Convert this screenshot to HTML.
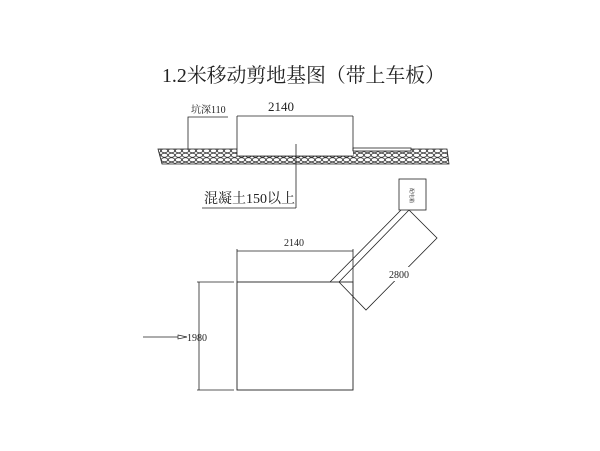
<!DOCTYPE html>
<html><head><meta charset="utf-8"><style>
html,body{margin:0;padding:0;background:#fff;}
svg{display:block;}
text{font-family:"Liberation Serif","Noto Serif CJK SC",serif;fill:#222;}
</style></head><body>
<svg width="600" height="451" viewBox="0 0 600 451" xmlns="http://www.w3.org/2000/svg">
<defs>
<pattern id="st" width="7" height="4.5" patternUnits="userSpaceOnUse">
<ellipse cx="3.5" cy="2.25" rx="3.2" ry="2" fill="none" stroke="#333" stroke-width="0.8"/>
</pattern>
</defs>
<text x="162" y="82" font-size="20" textLength="283" lengthAdjust="spacingAndGlyphs">1.2米移动剪地基图（带上车板）</text>

<!-- ground section -->
<path d="M158 149 L237 149 L237 156 L353 156 L353 151 L410 151 L410 149 L447 149 L449 164 L162 164 Z" fill="url(#st)" stroke="#222" stroke-width="0.8"/>
<rect x="237" y="149" width="116" height="7" fill="#fff"/>
<line x1="237" y1="156" x2="353" y2="156" stroke="#222" stroke-width="0.8"/>
<rect x="353" y="148" width="58" height="3" fill="#fff" stroke="#222" stroke-width="0.8"/>
<line x1="237" y1="116" x2="237" y2="156" stroke="#222" stroke-width="0.8"/>
<line x1="353" y1="116" x2="353" y2="151" stroke="#222" stroke-width="0.8"/>
<line x1="237" y1="116" x2="353" y2="116" stroke="#222" stroke-width="0.8"/>
<text x="268" y="111" font-size="13">2140</text>
<polyline points="188,149 188,117 228,117" fill="none" stroke="#222" stroke-width="0.8"/>
<text x="191" y="113" font-size="10">坑深110</text>
<line x1="296" y1="144" x2="296" y2="208" stroke="#222" stroke-width="0.8"/>
<line x1="202" y1="208" x2="296" y2="208" stroke="#222" stroke-width="0.8"/>
<text x="204" y="203" font-size="14">混凝土150以上</text>

<!-- plan -->
<rect x="237" y="282" width="116" height="108" fill="none" stroke="#222" stroke-width="0.9"/>
<line x1="237" y1="251" x2="353" y2="251" stroke="#222" stroke-width="0.8"/>
<line x1="237" y1="249" x2="237" y2="282" stroke="#222" stroke-width="0.8"/>
<line x1="353" y1="249" x2="353" y2="282" stroke="#222" stroke-width="0.8"/>
<text x="284" y="246" font-size="10">2140</text>
<line x1="199" y1="282" x2="199" y2="390" stroke="#222" stroke-width="0.8"/>
<line x1="197" y1="282" x2="234" y2="282" stroke="#222" stroke-width="0.8"/>
<line x1="197" y1="390" x2="234" y2="390" stroke="#222" stroke-width="0.8"/>
<line x1="143" y1="337" x2="180" y2="337" stroke="#222" stroke-width="0.8"/>
<polygon points="178,335 187,337 178,339" fill="#fff" stroke="#222" stroke-width="0.7"/>
<text x="187" y="341" font-size="10">1980</text>

<line x1="330" y1="282" x2="401" y2="210" stroke="#222" stroke-width="0.8"/>
<line x1="339" y1="282" x2="409" y2="210" stroke="#222" stroke-width="0.8"/>
<polyline points="339,282 366,310 437,238 409,210" fill="none" stroke="#222" stroke-width="0.8"/>
<rect x="388" y="267" width="24" height="14" fill="#fff"/>
<text x="389" y="278" font-size="10">2800</text>
<rect x="399" y="179" width="27" height="31" fill="#fff" stroke="#222" stroke-width="0.8"/>
<text x="0" y="0" font-size="5" transform="translate(410,188) rotate(90)">配电箱</text>
</svg>
</body></html>
